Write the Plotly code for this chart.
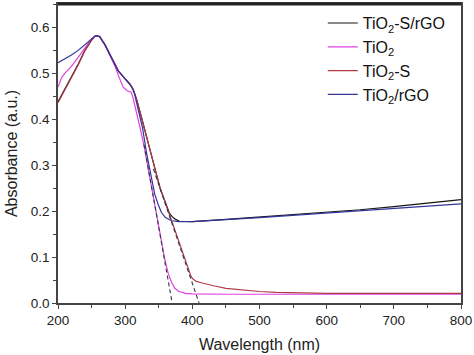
import plotly.graph_objects as go

# ---------------- data ----------------
wl_black = [200, 210, 220, 230, 240, 250, 256, 262, 270, 280, 290, 300, 307, 312, 317,
            325, 330, 337, 345, 352, 359, 366, 370, 375, 381, 390, 400, 450, 500, 550,
            600, 650, 700, 750, 800]
abs_black = [0.438, 0.465, 0.490, 0.520, 0.550, 0.573, 0.582, 0.580, 0.562, 0.533, 0.505,
             0.488, 0.477, 0.465, 0.443, 0.400, 0.372, 0.330, 0.285, 0.250, 0.222, 0.195,
             0.188, 0.182, 0.178, 0.177, 0.177, 0.182, 0.187, 0.192, 0.197, 0.203, 0.210,
             0.217, 0.225]

wl_mag = [200, 205, 210, 220, 230, 240, 250, 256, 262, 270, 280, 285, 290, 297, 303, 309,
          312, 318, 324, 329, 334, 339, 344, 349, 354, 359, 364, 369, 374, 380, 390, 400,
          450, 500, 600, 700, 800]
abs_mag = [0.470, 0.490, 0.500, 0.515, 0.535, 0.556, 0.575, 0.582, 0.580, 0.562, 0.533,
           0.515, 0.495, 0.470, 0.462, 0.459, 0.445, 0.410, 0.370, 0.335, 0.295, 0.255,
           0.210, 0.170, 0.132, 0.095, 0.065, 0.045, 0.032, 0.025, 0.021, 0.020, 0.019,
           0.019, 0.019, 0.019, 0.019]

wl_red = [200, 210, 220, 230, 240, 250, 256, 262, 270, 280, 290, 300, 307, 312, 317, 325,
          330, 337, 345, 352, 359, 366, 369, 375, 380, 384, 390, 394, 398, 401, 406, 413,
          420, 433, 450, 475, 500, 525, 550, 600, 700, 800]
abs_red = [0.436, 0.463, 0.488, 0.518, 0.549, 0.572, 0.582, 0.580, 0.562, 0.533, 0.505,
           0.488, 0.477, 0.465, 0.443, 0.400, 0.372, 0.330, 0.285, 0.250, 0.222, 0.192,
           0.179, 0.153, 0.131, 0.114, 0.088, 0.071, 0.058, 0.052, 0.047, 0.044, 0.041,
           0.037, 0.032, 0.028, 0.025, 0.023, 0.022, 0.021, 0.021, 0.021]

wl_blue = [200, 210, 220, 230, 240, 250, 256, 262, 270, 280, 290, 300, 307, 310, 314, 320,
           326, 332, 340, 344, 349, 354, 360, 369, 380, 390, 400, 500, 600, 700, 800]
abs_blue = [0.523, 0.531, 0.540, 0.550, 0.562, 0.575, 0.582, 0.580, 0.562, 0.533, 0.505,
            0.488, 0.477, 0.470, 0.455, 0.420, 0.380, 0.325, 0.262, 0.237, 0.215, 0.197,
            0.186, 0.179, 0.177, 0.177, 0.177, 0.186, 0.196, 0.206, 0.216]

# tangent (band-edge) extrapolation lines
tan1_x = [328, 370]
tan1_y = [0.345, 0.0]
tan2_x = [342, 410]
tan2_y = [0.292, 0.0]

names = ["TiO<sub>2</sub>-S/rGO", "TiO<sub>2</sub>", "TiO<sub>2</sub>-S", "TiO<sub>2</sub>/rGO"]
colors = ["#161616", "#e040e0", "#b03a48", "#34349c"]

x_ticks = [200, 300, 400, 500, 600, 700, 800]
y_ticks = [0.0, 0.1, 0.2, 0.3, 0.4, 0.5, 0.6]
y_tick_text = ["0.0", "0.1", "0.2", "0.3", "0.4", "0.5", "0.6"]

# ---------------- figure ----------------
fig = go.Figure()

series = [(wl_black, abs_black), (wl_mag, abs_mag), (wl_red, abs_red), (wl_blue, abs_blue)]
for (xs, ys), name, col in zip(series, names, colors):
    fig.add_trace(go.Scatter(x=xs, y=ys, mode="lines", name=name,
                             line=dict(color=col, width=1.2)))

for tx, ty in [(tan1_x, tan1_y), (tan2_x, tan2_y)]:
    fig.add_trace(go.Scatter(x=tx, y=ty, mode="lines", showlegend=False,
                             line=dict(color="#2f3a48", width=1.1, dash="4px,3px")))

font_family = "Liberation Sans, Arial, sans-serif"

fig.update_layout(
    width=474, height=355,
    margin=dict(l=58, r=11, t=2, b=52),
    paper_bgcolor="white", plot_bgcolor="white",
    font=dict(family=font_family, size=13, color="#222222"),
    showlegend=True,
    legend=dict(x=0.657, y=0.993, xanchor="left", yanchor="top",
                bgcolor="rgba(0,0,0,0)", borderwidth=0,
                font=dict(family=font_family, size=16, color="#111111"),
                tracegroupgap=0),
    xaxis=dict(range=[200, 800], tickvals=x_ticks, ticks="outside", ticklen=4,
               tickwidth=1.2, tickcolor="#444444", ticklabeloverflow="allow",
               minor=dict(dtick=50, ticks="outside", ticklen=3, tickcolor="#444444"),
               showgrid=False, zeroline=False, showline=True, linecolor="#444444",
               linewidth=1.5, mirror=True,
               title=dict(text="Wavelength (nm)", font=dict(size=16), standoff=12),
               tickfont=dict(size=13.5)),
    yaxis=dict(range=[0, 0.651], tickvals=y_ticks, ticktext=y_tick_text,
               ticks="outside", ticklen=4, tickwidth=1.2, tickcolor="#444444",
               minor=dict(dtick=0.05, ticks="outside", ticklen=3, tickcolor="#444444"),
               showgrid=False, zeroline=False, showline=True, linecolor="#444444",
               linewidth=1.5, mirror=True,
               title=dict(text="Absorbance (a.u.)", font=dict(size=16), standoff=9),
               tickfont=dict(size=13.5)),
)

# thick top frame line as in the reference
fig.add_shape(type="line", xref="paper", yref="paper", x0=0, x1=1, y0=1, y1=1,
              line=dict(color="#222222", width=3))

fig.write_html("out.html", config={"displayModeBar": False},
               post_script="document.body.style.margin='0';document.body.style.padding='0';")
